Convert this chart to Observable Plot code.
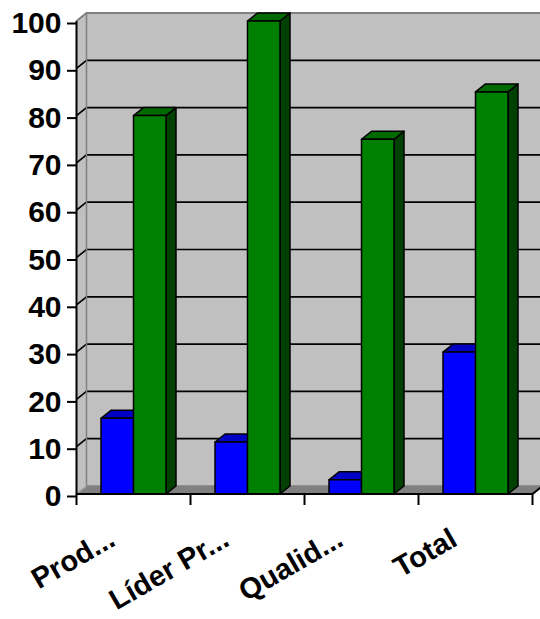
<!DOCTYPE html>
<html>
<head>
<meta charset="utf-8">
<script src="https://cdn.jsdelivr.net/npm/d3@7"></script>
<script src="https://cdn.jsdelivr.net/npm/@observablehq/plot@0.6"></script>
<style>
  html, body { margin: 0; padding: 0; background: #ffffff; }
  #chart svg { display: block; }
</style>
</head>
<body>
<div id="chart"></div>
<script>
// Categories and the two series of values
const categories = ["Prod...", "Líder Pr...", "Qualid...", "Total"];
const seriesBlue = [16, 11, 3, 30];
const seriesGreen = [80, 100, 75, 85];
const yTicks = [0, 10, 20, 30, 40, 50, 60, 70, 80, 90, 100];

// Look of the 3D box and the extruded columns
const depth = {dx: 10, dy: -8};
const wallFill = "#c0c0c0";
const floorFill = "#808080";
const edgeGray = "#808080";
const blueFaces = {front: "#0000ff", top: "#0000c4", side: "#000080"};
const greenFaces = {front: "#008000", top: "#006a00", side: "#004000"};
const fontFamily = "'Liberation Sans', Arial, sans-serif";

const bandwidthOf = (x) => typeof x.bandwidth === "function" ? x.bandwidth() : x.bandwidth;
const stepOf = (x, bw) => typeof x.step === "function" ? x.step() : (x.step ?? bw / (1 - 0.43));

function frameGeometry(scales) {
  const {x, y} = scales;
  const bw = bandwidthOf(x);
  const step = stepOf(x, bw);
  const gap = (step - bw) / 2;
  return {
    x, y, bw, step, gap,
    x0: x(categories[0]) - gap,
    x1: x(categories[categories.length - 1]) + bw + gap,
    yTop: y(yTicks[yTicks.length - 1]),
    yBase: y(0)
  };
}

function polygon(g, pts, fill, stroke, width = 1.5) {
  g.append("path")
    .attr("d", "M" + pts.map(p => p.join(",")).join("L") + "Z")
    .attr("fill", fill)
    .attr("stroke", stroke)
    .attr("stroke-width", width)
    .attr("stroke-linejoin", "round");
}

function line(g, pts, stroke, width) {
  g.append("path")
    .attr("d", "M" + pts.map(p => p.join(",")).join("L"))
    .attr("fill", "none")
    .attr("stroke", stroke)
    .attr("stroke-width", width);
}

// Back wall, side wall, floor and gridlines
function backdrop(index, scales) {
  const {y, x0, x1, yTop, yBase} = frameGeometry(scales);
  const {dx, dy} = depth;
  const g = d3.create("svg:g");
  polygon(g, [[x0 + dx, yTop + dy], [x1 + dx, yTop + dy], [x1 + dx, yBase + dy], [x0 + dx, yBase + dy]], wallFill, "none");
  polygon(g, [[x0, yBase], [x0, yTop], [x0 + dx, yTop + dy], [x0 + dx, yBase + dy]], wallFill, "none");
  polygon(g, [[x0, yBase], [x1, yBase], [x1 + dx, yBase + dy], [x0 + dx, yBase + dy]], floorFill, "none");
  for (const t of yTicks) {
    if (t === 0 || t === yTicks[yTicks.length - 1]) continue;
    const yy = y(t);
    line(g, [[x0, yy], [x0 + dx, yy + dy], [x1 + dx, yy + dy]], "#000000", 1.7);
  }
  // wall edges
  line(g, [[x0, yTop], [x0 + dx, yTop + dy], [x1 + dx, yTop + dy]], edgeGray, 2);
  line(g, [[x0 + dx, yTop + dy], [x0 + dx, yBase + dy], [x1 + dx, yBase + dy]], edgeGray, 1.5);
  line(g, [[x0, yBase], [x0 + dx, yBase + dy]], "#a0a0a0", 1.5);
  return g.node();
}

// Extruded columns: front face, top face and right side face
function columns(index, scales) {
  const {x, y, bw, yBase} = frameGeometry(scales);
  const {dx, dy} = depth;
  const g = d3.create("svg:g");
  const box = (l, r, v, faces) => {
    const yv = y(v);
    polygon(g, [[r, yBase], [r, yv], [r + dx, yv + dy], [r + dx, yBase + dy]], faces.side, "#000000");
    polygon(g, [[l, yv], [r, yv], [r + dx, yv + dy], [l + dx, yv + dy]], faces.top, "#000000");
    polygon(g, [[l, yBase], [l, yv], [r, yv], [r, yBase]], faces.front, "#000000");
  };
  categories.forEach((c, i) => {
    const left = x(c);
    const half = bw / 2;
    box(left, left + half, seriesBlue[i], blueFaces);
    box(left + half, left + bw, seriesGreen[i], greenFaces);
  });
  return g.node();
}

// Axis lines with ticks at the category boundaries
function axisLines(index, scales) {
  const {x, bw, gap, x0, x1, yTop, yBase} = frameGeometry(scales);
  const {dx, dy} = depth;
  const g = d3.create("svg:g");
  const tickLen = 11;
  line(g, [[x0, yTop], [x0, yBase + tickLen]], "#000000", 2);
  line(g, [[x0, yBase], [x1, yBase], [x1 + dx, yBase + dy]], "#000000", 2);
  categories.forEach((c) => {
    const xr = x(c) + bw + gap;
    line(g, [[xr, yBase], [xr, yBase + tickLen]], "#000000", 2);
  });
  return g.node();
}

const chart = Plot.plot({
  width: 540,
  height: 619,
  marginTop: 21,
  marginRight: 8,
  marginBottom: 125,
  marginLeft: 76,
  style: {fontFamily, fontSize: "30px", fontWeight: "bold", color: "#000000", background: "#ffffff"},
  x: {type: "band", domain: categories, paddingInner: 0.43, paddingOuter: 0.215, align: 0.5, axis: null},
  y: {domain: [0, 100]},
  marks: [
    backdrop,
    Plot.axisY({ticks: yTicks, tickSize: 9, tickPadding: 6, label: null, strokeWidth: 2, dy: 2}),
    columns,
    axisLines,
    Plot.text(categories, {
      x: d => d,
      frameAnchor: "bottom",
      dy: 50,
      dx: -17,
      rotate: -30,
      textAnchor: "end",
      lineAnchor: "bottom",
      fontSize: 29,
      fontWeight: "bold"
    })
  ]
});

document.getElementById("chart").appendChild(chart);
</script>
</body>
</html>
